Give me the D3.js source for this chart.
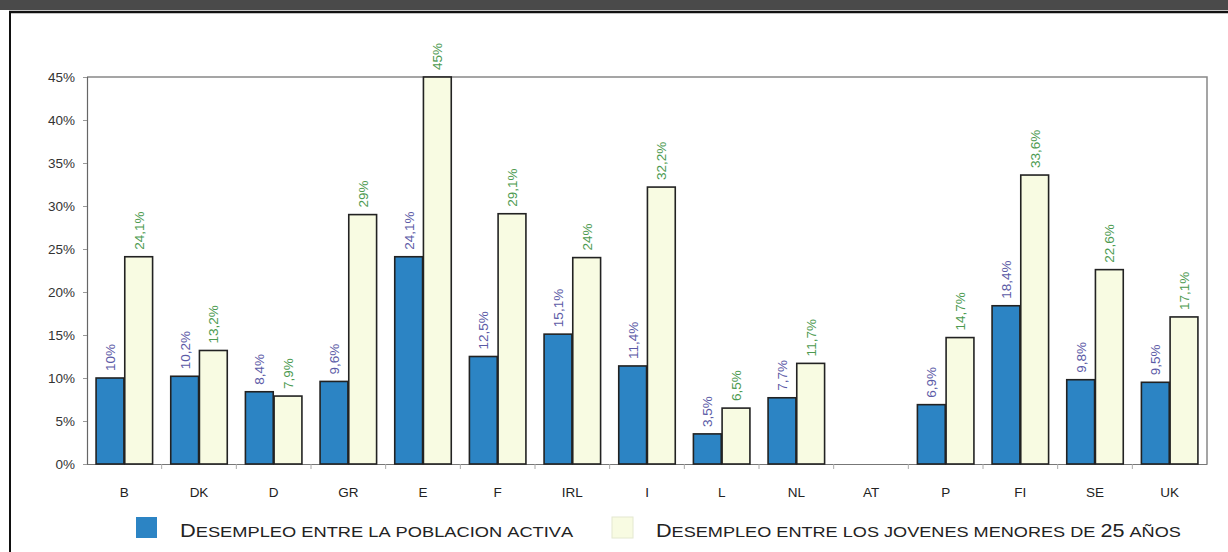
<!DOCTYPE html>
<html>
<head>
<meta charset="utf-8">
<script src="https://cdn.jsdelivr.net/npm/d3@7"></script>
<style>
  body { margin: 0; background: #fff; }
  svg { display: block; font-family: "Liberation Sans", Arial, sans-serif; }
</style>
</head>
<body>
<svg id="chart" width="1228" height="552"></svg>
<script>
// data
var countries = ["B", "DK", "D", "GR", "E", "F", "IRL", "I", "L", "NL", "AT", "P", "FI", "SE", "UK"];
var activa    = [10, 10.2, 8.4, 9.6, 24.1, 12.5, 15.1, 11.4, 3.5, 7.7, null, 6.9, 18.4, 9.8, 9.5];
var jovenes   = [24.1, 13.2, 7.9, 29, 45, 29.1, 24, 32.2, 6.5, 11.7, null, 14.7, 33.6, 22.6, 17.1];
var yTicks    = [0, 5, 10, 15, 20, 25, 30, 35, 40, 45];
var seriesNames = ["Desempleo entre la poblacion activa", "Desempleo entre los jovenes menores de 25 años"];

var blue = "#2c84c4", pale = "#f8fbe2";
var blueText = "#5b5aa6", greenText = "#4c9a50";

var svg = d3.select("#chart");

// frame from the printed page
svg.append("rect").attr("x", 0).attr("y", 0).attr("width", 1228).attr("height", 10).attr("fill", "#4a4a4a");
svg.append("line").attr("x1", 9).attr("x2", 1228).attr("y1", 12).attr("y2", 12).attr("stroke", "#111").attr("stroke-width", 2.5);
svg.append("line").attr("x1", 10).attr("x2", 10).attr("y1", 11).attr("y2", 552).attr("stroke", "#111").attr("stroke-width", 2);

var pLeft = 87, pRight = 1207, pTop = 77, pBottom = 464;

var x = d3.scaleBand().domain(countries).range([pLeft, pRight]).paddingInner(0.22).paddingOuter(0.11);
var xOuter = d3.scaleBand().domain(countries).range([pLeft, pRight]);
var sub = d3.scaleBand().domain([0, 1]).range([0, x.bandwidth()]).padding(0.03);
var y = d3.scaleLinear().domain([0, 45]).range([pBottom, pTop]);

// plot frame
svg.append("path")
    .attr("d", "M" + pLeft + "," + pTop + "H" + pRight + "V" + pBottom)
    .attr("fill", "none").attr("stroke", "#888").attr("stroke-width", 1.5);

// y axis
var yAxis = svg.append("g").attr("transform", "translate(" + pLeft + ",0)")
    .call(d3.axisLeft(y).tickValues(yTicks).tickSize(4).tickFormat(d => d + "%"));
yAxis.select(".domain").attr("stroke", "#666").attr("stroke-width", 1.2);
yAxis.selectAll(".tick line").attr("stroke", "#999");
yAxis.selectAll("text").attr("font-size", 13.5).attr("fill", "#333").attr("x", -12);

// x axis
var xAxis = svg.append("g").attr("transform", "translate(0," + pBottom + ")")
    .call(d3.axisBottom(x).tickSize(0).tickPadding(23));
xAxis.select(".domain").attr("stroke", "#777").attr("stroke-width", 1.2);
xAxis.selectAll("text").attr("font-size", 13.5).attr("fill", "#222");
svg.append("g").selectAll("line")
    .data(countries.slice(1)).enter().append("line")
    .attr("x1", d => xOuter(d)).attr("x2", d => xOuter(d))
    .attr("y1", pBottom).attr("y2", pBottom + 5)
    .attr("stroke", "#aaa");

var series = [
  { values: activa, fill: blue, text: blueText },
  { values: jovenes, fill: pale, text: greenText }
];

series.forEach(function(s, i) {
  var rows = countries.map((c, j) => ({ c: c, v: s.values[j] })).filter(d => d.v != null);
  var g = svg.append("g");
  g.selectAll("rect").data(rows).enter().append("rect")
      .attr("x", d => x(d.c) + sub(i))
      .attr("y", d => y(d.v))
      .attr("width", sub.bandwidth())
      .attr("height", d => y(0) - y(d.v))
      .attr("fill", s.fill)
      .attr("stroke", "#222").attr("stroke-width", 1.6);
  g.selectAll("text").data(rows).enter().append("text")
      .attr("transform", d => "translate(" + (x(d.c) + sub(i) + sub.bandwidth() / 2 + 5) + "," + (y(d.v) - 7) + ") rotate(-90)")
      .attr("font-size", 13.5)
      .attr("fill", s.text)
      .text(d => String(d.v).replace(".", ",") + "%");
});

// legend, set in hand-made small caps and stretched like the print
var legendX = [136, 612];
var legendW = [390, 524];
seriesNames.forEach(function(name, i) {
  svg.append("rect").attr("x", legendX[i]).attr("y", 517).attr("width", 21).attr("height", 21)
      .attr("fill", i === 0 ? blue : pale)
      .attr("stroke", i === 0 ? "none" : "#e4e8d0");
  var tx = legendX[i] + 44;
  var t = svg.append("text").attr("x", 0).attr("y", 0).attr("fill", "#222");
  name.split("").forEach(function(ch) {
    var big = ch !== ch.toLowerCase() || /[0-9]/.test(ch);
    t.append("tspan").attr("font-size", big ? 18.5 : 15.5).text(ch.toUpperCase());
  });
  var w = t.node().getComputedTextLength();
  t.attr("transform", "translate(" + tx + ",537) scale(" + (legendW[i] / w) + ",1)");
});
</script>
</body>
</html>
